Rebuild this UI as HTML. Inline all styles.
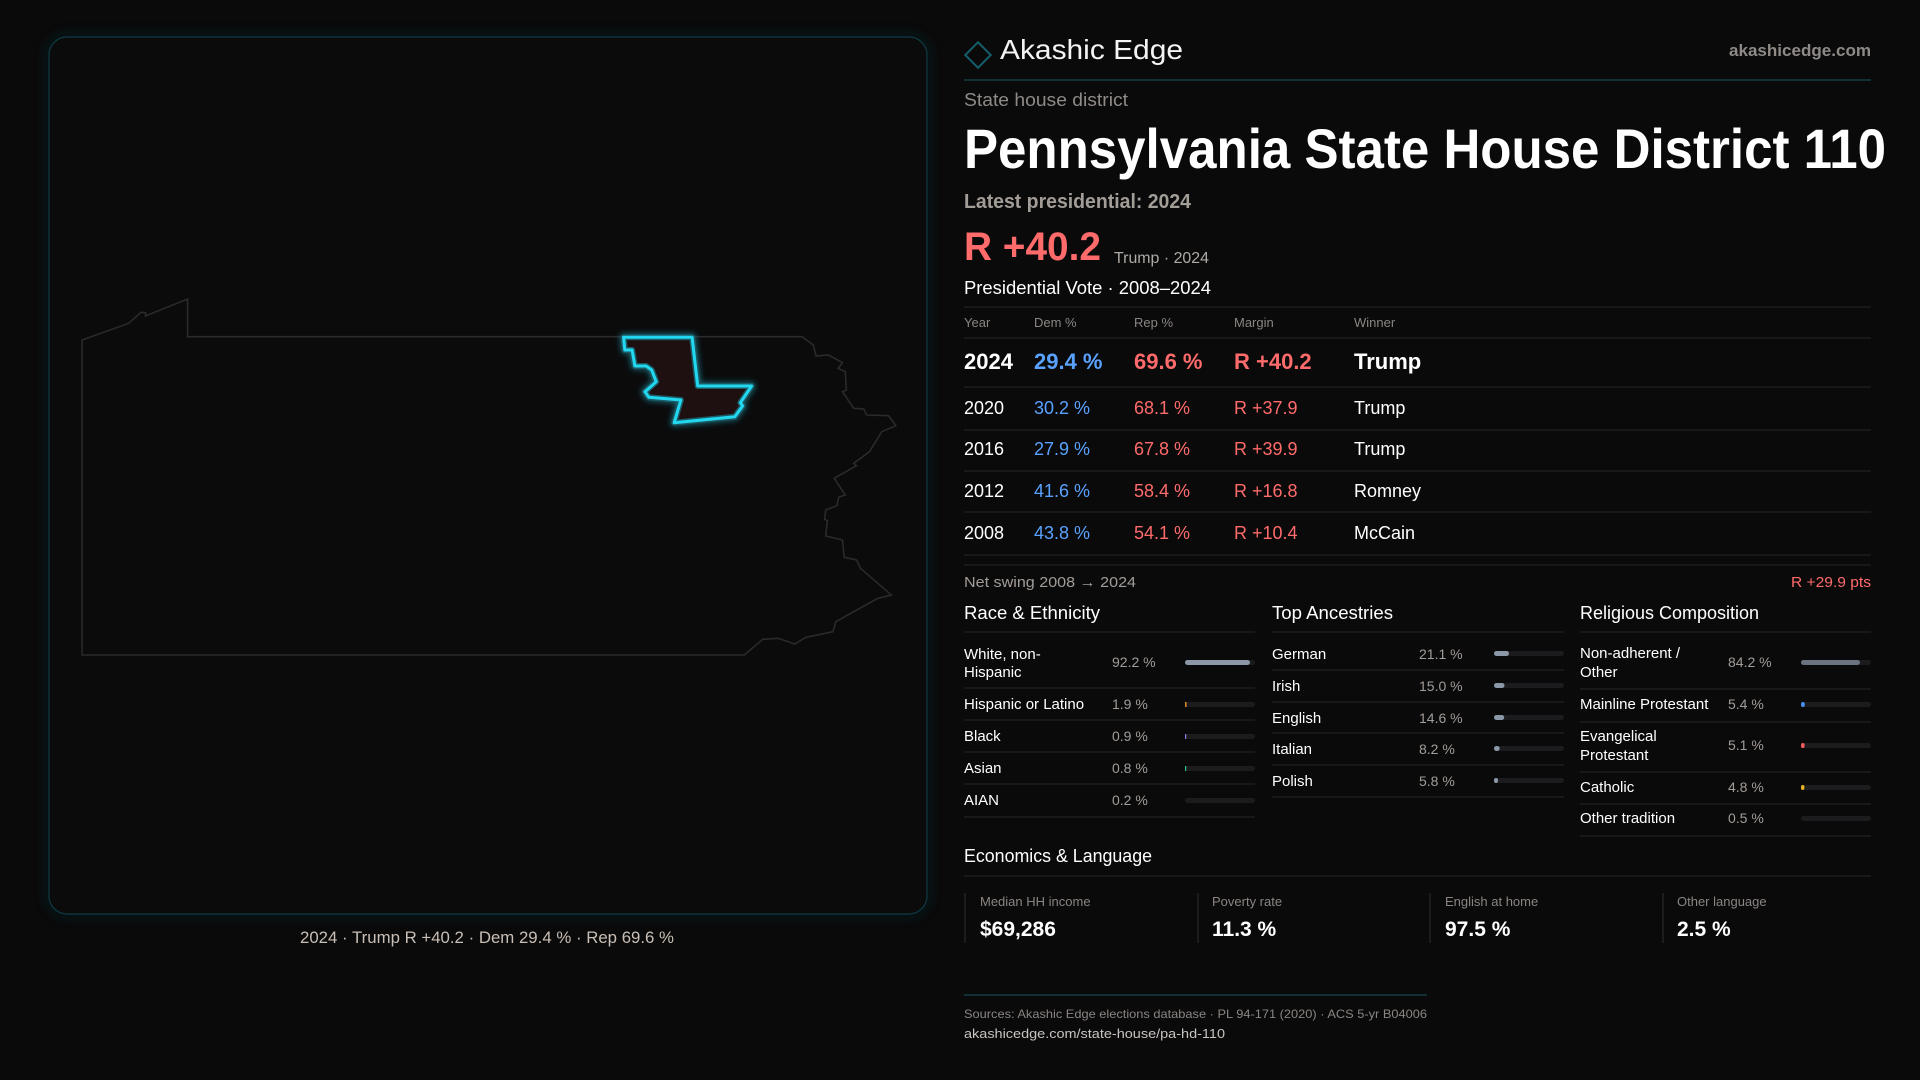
<!DOCTYPE html>
<html><head><meta charset="utf-8"><style>
html,body{margin:0;padding:0;background:#0a0a0b;width:1920px;height:1080px;overflow:hidden}
svg{display:block}
text{font-family:"Liberation Sans",sans-serif}
</style></head><body>
<svg width="1920" height="1080" viewBox="0 0 1920 1080" xmlns="http://www.w3.org/2000/svg">
<defs>
<filter id="glow" x="-30%" y="-30%" width="160%" height="160%"><feGaussianBlur stdDeviation="3"/></filter>
<filter id="pglow" x="-5%" y="-5%" width="110%" height="110%"><feGaussianBlur stdDeviation="6"/></filter>
</defs>
<rect width="1920" height="1080" fill="#0a0a0b"/>
<!-- map panel -->
<rect x="49" y="37" width="878" height="877" rx="18" fill="none" stroke="#0c2a30" stroke-width="6" filter="url(#pglow)" opacity="0.6"/>
<rect x="49" y="37" width="878" height="877" rx="18" fill="#0b0b0c" stroke="#0f3b44" stroke-width="1.2"/>
<polygon fill="none" stroke="#2a2a2b" stroke-width="1.6" points="82.1,340 128.7,323.3 141,312.3 145.5,312.7 145.5,316 187.6,299 187.6,336.7 802.1,336.7 813.3,345 816.1,356 828.5,355 842.5,362.7 838,368.3 845.3,371.7 846.4,390 842.5,391.7 853.7,408.3 863.8,409 866.6,415 888.5,415.7 895.8,425.7 881.8,431.7 869.4,451.7 853.7,463.3 856.5,465.7 834.1,478.3 845.3,495 838.6,497.3 836.9,505.7 825.7,510 824.6,519.3 827.4,520.7 825.7,536 842.5,540 844.2,557.3 856.5,560 860.5,568.3 891.3,595 877.9,598.3 835.8,621.7 833,631.7 806,637.3 794.8,644 778,638.3 762.8,639.3 744.3,655 82.1,655"/>
<g>
<polygon points="623.6,337.3 692.1,337.3 697.7,386 751.6,386 740.4,402.7 742.6,406 734.8,416.7 674.2,422.7 680.9,400 648.9,397.3 645,391.7 656.2,381.7 651.7,370 646.1,366 634.9,366 632.1,350 624.8,350" fill="none" stroke="#1a7f90" stroke-width="8" stroke-linejoin="round" opacity="0.7" filter="url(#glow)"/>
<polygon points="623.6,337.3 692.1,337.3 697.7,386 751.6,386 740.4,402.7 742.6,406 734.8,416.7 674.2,422.7 680.9,400 648.9,397.3 645,391.7 656.2,381.7 651.7,370 646.1,366 634.9,366 632.1,350 624.8,350" fill="#1e1011" stroke="#1b5b66" stroke-width="6" stroke-linejoin="round"/>
<polygon points="623.6,337.3 692.1,337.3 697.7,386 751.6,386 740.4,402.7 742.6,406 734.8,416.7 674.2,422.7 680.9,400 648.9,397.3 645,391.7 656.2,381.7 651.7,370 646.1,366 634.9,366 632.1,350 624.8,350" fill="none" stroke="#22d8f0" stroke-width="3" stroke-linejoin="round"/>
</g>
<text x="487" y="943" text-anchor="middle" font-size="17" fill="#c9bfb6" textLength="374" lengthAdjust="spacingAndGlyphs">2024 · Trump R +40.2 · Dem 29.4 % · Rep 69.6 %</text>

<!-- header -->
<rect x="969" y="46" width="18" height="18" transform="rotate(45 978 55)" fill="none" stroke="#155e6a" stroke-width="2"/>
<text x="1000" y="59" font-size="28" fill="#f4f4f4" textLength="183" lengthAdjust="spacingAndGlyphs">Akashic Edge</text>
<text x="1871" y="56" text-anchor="end" font-size="17" font-weight="bold" fill="#8f8a86" textLength="142" lengthAdjust="spacingAndGlyphs">akashicedge.com</text>
<line x1="964" y1="80" x2="1871" y2="80" stroke="#123c44" stroke-width="1.5"/>
<text x="964" y="106" font-size="18" fill="#8f8a86" textLength="164" lengthAdjust="spacingAndGlyphs">State house district</text>
<text x="964" y="168" font-size="56" font-weight="bold" fill="#ffffff" textLength="922" lengthAdjust="spacingAndGlyphs">Pennsylvania State House District 110</text>
<text x="964" y="208" font-size="20" font-weight="bold" fill="#a39d98" textLength="227" lengthAdjust="spacingAndGlyphs">Latest presidential: 2024</text>
<text x="964" y="260" font-size="40" font-weight="bold" fill="#ff6b6b" textLength="137" lengthAdjust="spacingAndGlyphs">R +40.2</text>
<text x="1114" y="263" font-size="16" fill="#b0aaa5" textLength="95" lengthAdjust="spacingAndGlyphs">Trump · 2024</text>
<text x="964" y="294" font-size="18" fill="#ffffff" textLength="247" lengthAdjust="spacingAndGlyphs">Presidential Vote · 2008–2024</text>
<g stroke="#222224" stroke-width="1.2">
<line x1="964" y1="307" x2="1871" y2="307"/>
<line x1="964" y1="338" x2="1871" y2="338"/>
<line x1="964" y1="387" x2="1871" y2="387"/>
<line x1="964" y1="430" x2="1871" y2="430"/>
<line x1="964" y1="471" x2="1871" y2="471"/>
<line x1="964" y1="512" x2="1871" y2="512"/>
<line x1="964" y1="555" x2="1871" y2="555"/>
<line x1="964" y1="565" x2="1871" y2="565"/>
</g>
<g font-size="13" fill="#8a8581">
<text x="964" y="327">Year</text><text x="1034" y="327">Dem %</text><text x="1134" y="327">Rep %</text><text x="1234" y="327">Margin</text><text x="1354" y="327">Winner</text>
</g>
<g font-size="22" font-weight="bold">
<text x="964" y="369" fill="#fff">2024</text><text x="1034" y="369" fill="#5aa2ff">29.4 %</text><text x="1134" y="369" fill="#ff6b6b">69.6 %</text><text x="1234" y="369" fill="#ff6b6b">R +40.2</text><text x="1354" y="369" fill="#fff">Trump</text>
</g>
<g font-size="18">
<text x="964" y="414" fill="#fff">2020</text><text x="1034" y="414" fill="#5aa2ff">30.2 %</text><text x="1134" y="414" fill="#ff6b6b">68.1 %</text><text x="1234" y="414" fill="#ff6b6b">R +37.9</text><text x="1354" y="414" fill="#fff">Trump</text>
<text x="964" y="455" fill="#fff">2016</text><text x="1034" y="455" fill="#5aa2ff">27.9 %</text><text x="1134" y="455" fill="#ff6b6b">67.8 %</text><text x="1234" y="455" fill="#ff6b6b">R +39.9</text><text x="1354" y="455" fill="#fff">Trump</text>
<text x="964" y="497" fill="#fff">2012</text><text x="1034" y="497" fill="#5aa2ff">41.6 %</text><text x="1134" y="497" fill="#ff6b6b">58.4 %</text><text x="1234" y="497" fill="#ff6b6b">R +16.8</text><text x="1354" y="497" fill="#fff">Romney</text>
<text x="964" y="539" fill="#fff">2008</text><text x="1034" y="539" fill="#5aa2ff">43.8 %</text><text x="1134" y="539" fill="#ff6b6b">54.1 %</text><text x="1234" y="539" fill="#ff6b6b">R +10.4</text><text x="1354" y="539" fill="#fff">McCain</text>
</g>
<text x="964" y="587" font-size="15" fill="#a39d98" textLength="172" lengthAdjust="spacingAndGlyphs">Net swing 2008 → 2024</text>
<text x="1871" y="587" text-anchor="end" font-size="15" fill="#ff6b6b" textLength="80" lengthAdjust="spacingAndGlyphs">R +29.9 pts</text>

<!-- section headings -->
<g font-size="18" fill="#fff">
<text x="964" y="619" textLength="136" lengthAdjust="spacingAndGlyphs">Race &amp; Ethnicity</text>
<text x="1272" y="619" textLength="121" lengthAdjust="spacingAndGlyphs">Top Ancestries</text>
<text x="1580" y="619" textLength="179" lengthAdjust="spacingAndGlyphs">Religious Composition</text>
</g>
<g stroke="#222224" stroke-width="1.2">
<line x1="964" y1="632" x2="1255" y2="632"/><line x1="1272" y1="632" x2="1564" y2="632"/><line x1="1580" y1="632" x2="1871" y2="632"/>
<line x1="964" y1="688" x2="1255" y2="688"/><line x1="964" y1="720" x2="1255" y2="720"/><line x1="964" y1="752" x2="1255" y2="752"/><line x1="964" y1="784" x2="1255" y2="784"/><line x1="964" y1="817" x2="1255" y2="817"/>
<line x1="1272" y1="670" x2="1564" y2="670"/><line x1="1272" y1="702" x2="1564" y2="702"/><line x1="1272" y1="733" x2="1564" y2="733"/><line x1="1272" y1="765" x2="1564" y2="765"/><line x1="1272" y1="797" x2="1564" y2="797"/>
<line x1="1580" y1="689" x2="1871" y2="689"/><line x1="1580" y1="722" x2="1871" y2="722"/><line x1="1580" y1="772" x2="1871" y2="772"/><line x1="1580" y1="804" x2="1871" y2="804"/><line x1="1580" y1="836" x2="1871" y2="836"/>
</g>
<g font-size="15" fill="#fff">
<text x="964" y="659">White, non-</text><text x="964" y="677">Hispanic</text>
<text x="964" y="709">Hispanic or Latino</text>
<text x="964" y="741">Black</text>
<text x="964" y="773">Asian</text>
<text x="964" y="805">AIAN</text>
<text x="1272" y="659">German</text><text x="1272" y="691">Irish</text><text x="1272" y="723">English</text><text x="1272" y="754">Italian</text><text x="1272" y="786">Polish</text>
<text x="1580" y="658">Non-adherent /</text><text x="1580" y="677">Other</text>
<text x="1580" y="709">Mainline Protestant</text>
<text x="1580" y="741">Evangelical</text><text x="1580" y="760">Protestant</text>
<text x="1580" y="792">Catholic</text>
<text x="1580" y="823">Other tradition</text>
</g>
<g font-size="14" fill="#a39d98">
<text x="1112" y="667">92.2 %</text><text x="1112" y="709">1.9 %</text><text x="1112" y="741">0.9 %</text><text x="1112" y="773">0.8 %</text><text x="1112" y="805">0.2 %</text>
<text x="1419" y="659">21.1 %</text><text x="1419" y="691">15.0 %</text><text x="1419" y="723">14.6 %</text><text x="1419" y="754">8.2 %</text><text x="1419" y="786">5.8 %</text>
<text x="1728" y="667">84.2 %</text><text x="1728" y="709">5.4 %</text><text x="1728" y="750">5.1 %</text><text x="1728" y="792">4.8 %</text><text x="1728" y="823">0.5 %</text>
</g>
<g fill="#1c1c1e">
<rect x="1185" y="660" width="70" height="5" rx="2.5"/><rect x="1185" y="702" width="70" height="5" rx="2.5"/><rect x="1185" y="734" width="70" height="5" rx="2.5"/><rect x="1185" y="766" width="70" height="5" rx="2.5"/><rect x="1185" y="798" width="70" height="5" rx="2.5"/>
<rect x="1494" y="651" width="70" height="5" rx="2.5"/><rect x="1494" y="683" width="70" height="5" rx="2.5"/><rect x="1494" y="715" width="70" height="5" rx="2.5"/><rect x="1494" y="746" width="70" height="5" rx="2.5"/><rect x="1494" y="778" width="70" height="5" rx="2.5"/>
<rect x="1801" y="660" width="70" height="5" rx="2.5"/><rect x="1801" y="702" width="70" height="5" rx="2.5"/><rect x="1801" y="743" width="70" height="5" rx="2.5"/><rect x="1801" y="785" width="70" height="5" rx="2.5"/><rect x="1801" y="816" width="70" height="5" rx="2.5"/>
</g>
<rect x="1185" y="660" width="65" height="5" rx="2.5" fill="#8c98a8"/>
<rect x="1185" y="702" width="1.5" height="5" fill="#e08a2c"/>
<rect x="1185" y="734" width="1.2" height="5" fill="#8b7be8"/>
<rect x="1185" y="766" width="1.2" height="5" fill="#2cc08a"/>
<g fill="#8c98a8">
<rect x="1494" y="651" width="15" height="5" rx="2.5"/><rect x="1494" y="683" width="10.5" height="5" rx="2.5"/><rect x="1494" y="715" width="10.2" height="5" rx="2.5"/><rect x="1494" y="746" width="5.7" height="5" rx="2.5"/><rect x="1494" y="778" width="4" height="5" rx="2"/>
</g>
<rect x="1801" y="660" width="59" height="5" rx="2.5" fill="#6b7280"/>
<rect x="1801" y="702" width="3.8" height="5" rx="1.9" fill="#4a8cf0"/>
<rect x="1801" y="743" width="3.6" height="5" rx="1.8" fill="#ef5a5a"/>
<rect x="1801" y="785" width="3.4" height="5" rx="1.7" fill="#e8b020"/>

<!-- economics -->
<text x="964" y="862" font-size="18" fill="#fff" textLength="188" lengthAdjust="spacingAndGlyphs">Economics &amp; Language</text>
<line x1="964" y1="876" x2="1871" y2="876" stroke="#222224" stroke-width="1.2"/>
<g stroke="#232325" stroke-width="1.5">
<line x1="965" y1="893" x2="965" y2="943"/><line x1="1198" y1="893" x2="1198" y2="943"/><line x1="1430" y1="893" x2="1430" y2="943"/><line x1="1663" y1="893" x2="1663" y2="943"/>
</g>
<g font-size="13" fill="#8a8581">
<text x="980" y="906">Median HH income</text><text x="1212" y="906">Poverty rate</text><text x="1445" y="906">English at home</text><text x="1677" y="906">Other language</text>
</g>
<g font-size="21" font-weight="bold" fill="#fff">
<text x="980" y="936">$69,286</text><text x="1212" y="936">11.3 %</text><text x="1445" y="936">97.5 %</text><text x="1677" y="936">2.5 %</text>
</g>
<line x1="964" y1="995" x2="1427" y2="995" stroke="#123c44" stroke-width="1.5"/>
<text x="964" y="1018" font-size="12" fill="#8a8581" textLength="463" lengthAdjust="spacingAndGlyphs">Sources: Akashic Edge elections database · PL 94-171 (2020) · ACS 5-yr B04006</text>
<text x="964" y="1038" font-size="13" fill="#c9c4c0" textLength="261" lengthAdjust="spacingAndGlyphs">akashicedge.com/state-house/pa-hd-110</text>
</svg>
</body></html>
